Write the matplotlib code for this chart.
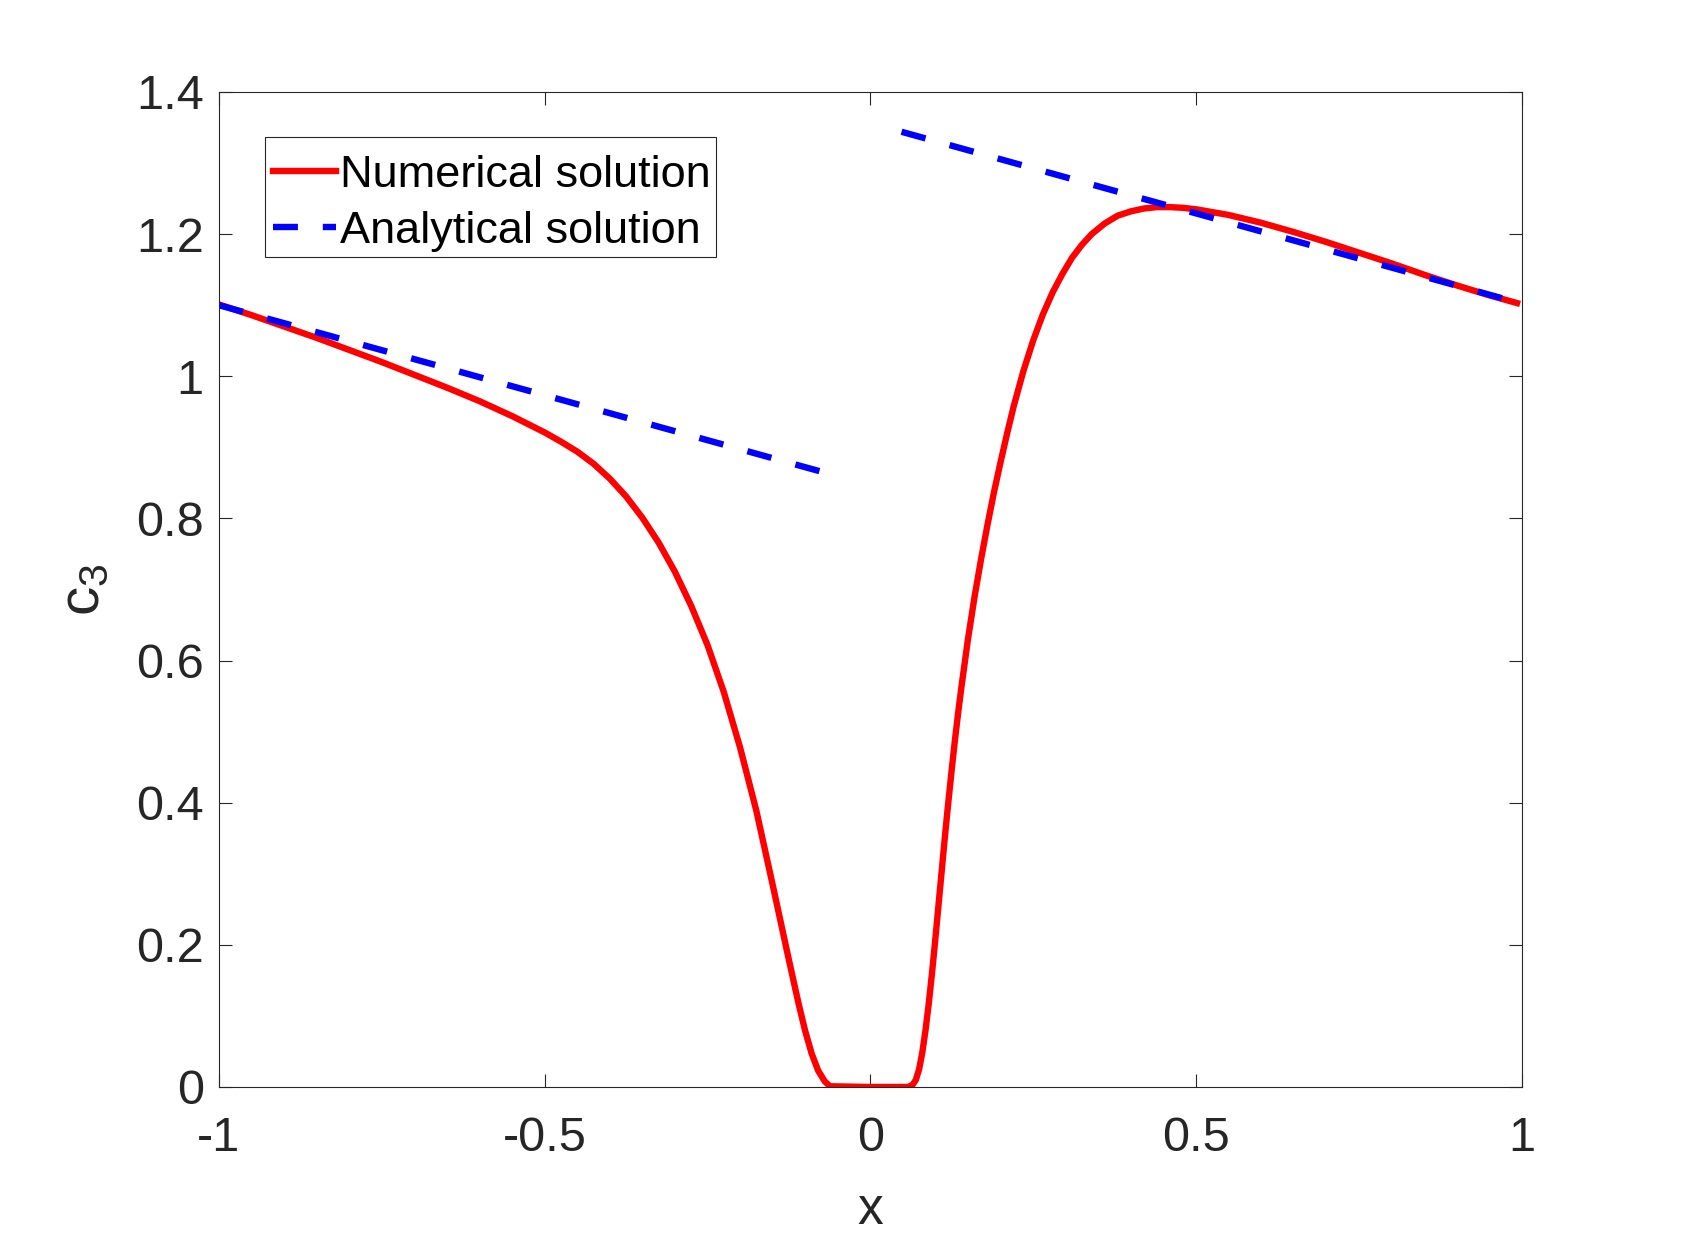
import matplotlib
matplotlib.use("Agg")
import matplotlib.pyplot as plt
from matplotlib.patches import Rectangle
from matplotlib.ticker import FixedLocator, FormatStrFormatter

# numerical solution
x_num = [-1.0, -0.95, -0.9, -0.85, -0.8, -0.75, -0.7, -0.65, -0.6, -0.55,
         -0.5, -0.475, -0.45, -0.425, -0.4, -0.375, -0.35, -0.325, -0.3, -0.275,
         -0.25, -0.225, -0.2, -0.175, -0.15, -0.125, -0.11, -0.1, -0.09, -0.08,
         -0.07, -0.062, 0.0, 0.058, 0.065, 0.07, 0.075, 0.08, 0.085, 0.09,
         0.095, 0.1, 0.105, 0.11, 0.115, 0.12, 0.125, 0.13, 0.135, 0.14,
         0.15, 0.16, 0.17, 0.18, 0.19, 0.2, 0.21, 0.22, 0.235, 0.25,
         0.265, 0.28, 0.295, 0.31, 0.325, 0.34, 0.36, 0.38, 0.4, 0.42,
         0.44, 0.46, 0.48, 0.5, 0.55, 0.6, 0.65, 0.7, 0.75, 0.8,
         0.85, 0.9, 0.95, 0.993]
y_num = [1.101, 1.086, 1.070, 1.054, 1.037, 1.020, 1.002, 0.984, 0.965, 0.944,
         0.921, 0.908, 0.894, 0.877, 0.856, 0.831, 0.801, 0.766, 0.725, 0.677,
         0.622, 0.556, 0.478, 0.389, 0.285, 0.179, 0.117, 0.079, 0.047, 0.023,
         0.008, 0.001, 0.0, 0.0, 0.003, 0.010, 0.025, 0.049, 0.081, 0.119,
         0.162, 0.209, 0.258, 0.307, 0.356, 0.402, 0.446, 0.488, 0.527, 0.563,
         0.630, 0.689, 0.742, 0.791, 0.837, 0.879, 0.919, 0.957, 1.007, 1.050,
         1.087, 1.118, 1.144, 1.167, 1.185, 1.200, 1.215, 1.226, 1.232, 1.236,
         1.238, 1.238, 1.237, 1.235, 1.227, 1.216, 1.203, 1.189, 1.174, 1.159,
         1.143, 1.128, 1.114, 1.103]

# analytical solution: two straight branches
x_ana_left = [-1.0, -0.076]
y_ana_left = [1.100, 0.866]
x_ana_right = [0.048, 0.993]
y_ana_right = [1.344, 1.104]

x_ticks = [-1, -0.5, 0, 0.5, 1]
y_ticks = [0, 0.2, 0.4, 0.6, 0.8, 1.0, 1.2, 1.4]

plt.rcParams["font.family"] = ["Liberation Sans", "DejaVu Sans"]
plt.rcParams["axes.unicode_minus"] = False
plt.rcParams["mathtext.fontset"] = "custom"
plt.rcParams["mathtext.rm"] = "Liberation Sans"

fig = plt.figure(figsize=(16.82, 12.38), dpi=100)
ax = fig.add_axes([0.1302, 0.1220, 0.7744, 0.8037])

ax.plot(x_num, y_num, "-", color="#ff0000", linewidth=4.6, label="Numerical solution",
        solid_joinstyle="round")
ax.plot(x_ana_left, y_ana_left, color="#0000ff", linewidth=4.6,
        linestyle=(0, (3.9, 3.9)), label="Analytical solution")
ax.plot(x_ana_right, y_ana_right, color="#0000ff", linewidth=4.6,
        linestyle=(0, (3.9, 3.9)))

ax.set_xlim(-1, 1)
ax.set_ylim(0, 1.4)
ax.xaxis.set_major_locator(FixedLocator(x_ticks))
ax.yaxis.set_major_locator(FixedLocator(y_ticks))
ax.xaxis.set_major_formatter(FormatStrFormatter("%g"))
ax.yaxis.set_major_formatter(FormatStrFormatter("%g"))

dark = "#262626"
for s in ax.spines.values():
    s.set_color(dark)
    s.set_linewidth(0.8)
ax.tick_params(axis="both", direction="in", length=9.5, width=0.8, color=dark,
               labelcolor=dark, labelsize=35, top=True, right=True)
ax.tick_params(axis="x", pad=21)
ax.tick_params(axis="y", pad=11)

ax.set_xlabel("x", fontsize=37, color=dark, labelpad=18)
ax.set_ylabel(r"$\mathregular{c_3}$", fontsize=42, color=dark, labelpad=18)

# legend frame drawn separately so the rows can sit like the reference
ax.add_patch(Rectangle((0.0353, 0.8337), 0.3459, 0.1211, transform=ax.transAxes,
                       facecolor="white", edgecolor=dark, linewidth=0.8, zorder=5))
leg = ax.legend(loc="upper left", bbox_to_anchor=(0.0411, 0.9370), borderaxespad=0,
                fontsize=32.5, frameon=False, handlelength=1.4, handletextpad=0.1,
                borderpad=0, labelspacing=0.33)
leg.set_zorder(6)

fig.savefig("out.png", dpi=100)
